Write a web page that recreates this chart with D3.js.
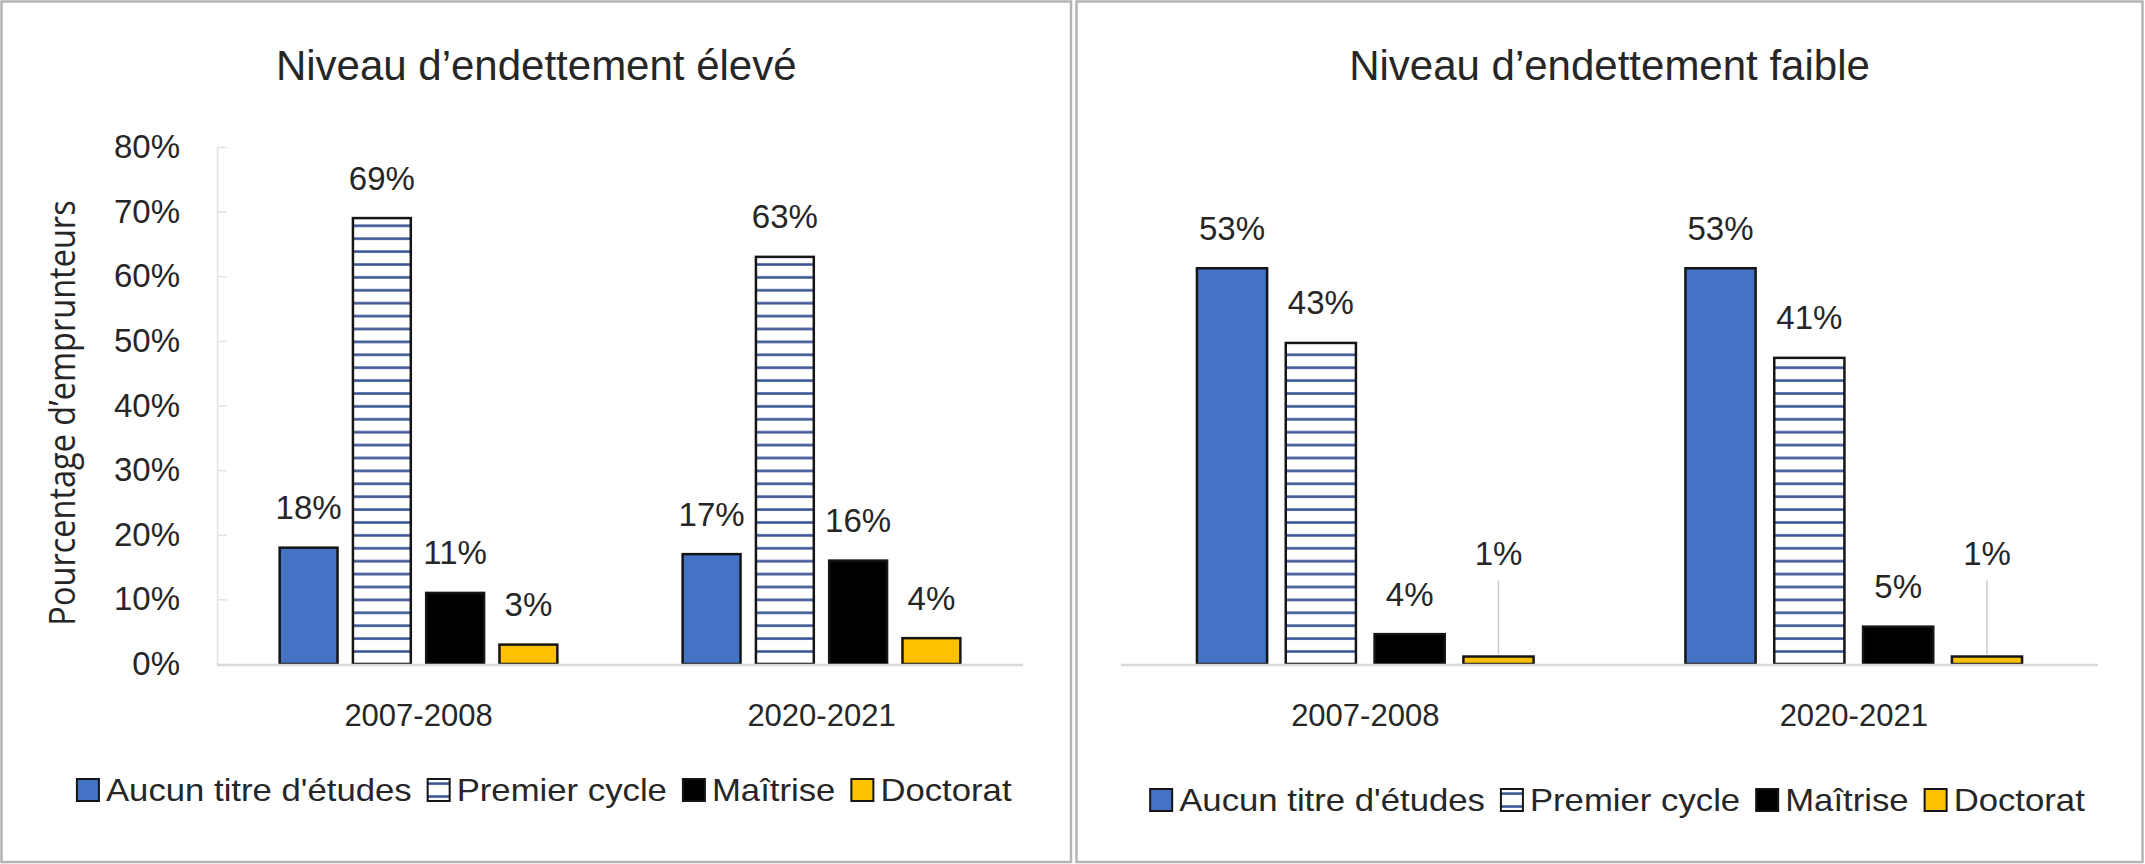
<!DOCTYPE html>
<html><head><meta charset="utf-8">
<script src="https://cdn.jsdelivr.net/npm/d3@7"></script>
<style>
html,body{margin:0;padding:0;background:#fff;}
svg{display:block;}
</style></head><body>
<svg id="chart" width="2145" height="864"></svg>
<script>
// ---- data ----
const periods = ["2007-2008", "2020-2021"];
const seriesNames = ["Aucun titre d'études", "Premier cycle", "Maîtrise", "Doctorat"];
const eleve2007 = [0.18, 0.69, 0.11, 0.03];
const eleve2020 = [0.17, 0.63, 0.16, 0.04];
const faible2007 = [0.53, 0.43, 0.04, 0.01];
const faible2020 = [0.53, 0.41, 0.05, 0.01];
const yTicksEleve = [0, 0.1, 0.2, 0.3, 0.4, 0.5, 0.6, 0.7, 0.8];
const panelTitles = ["Niveau d’endettement élevé", "Niveau d’endettement faible"];
const yAxisTitle = "Pourcentage d’emprunteurs";

// ---- style ----
const FONT = "'Liberation Sans', Arial, sans-serif";
const TXT = "#262626";
const fills = ["#4472C4", "url(#stripes)", "#000000", "#FFC000"];
const BAR_STROKE = "#151515";

const svg = d3.select("#chart");
const defs = svg.append("defs");
const pat = defs.append("pattern").attr("id", "stripes")
  .attr("patternUnits", "userSpaceOnUse").attr("width", 20).attr("height", 12.9);
pat.append("rect").attr("width", 20).attr("height", 12.9).attr("fill", "#ffffff");
pat.append("rect").attr("y", 5.2).attr("width", 20).attr("height", 2.6).attr("fill", "#3c5595");

svg.append("rect").attr("width", 2145).attr("height", 864).attr("fill", "#fff");

function stext(parent, x, y, str, size, sx, anchor, family) {
  const g = parent.append("g").attr("transform", `translate(${x},${y}) scale(${sx},1)`);
  const t = g.append("text").attr("text-anchor", anchor || "middle").attr("dy", "0.35em")
    .style("font-family", family || FONT).style("font-size", size + "px").attr("fill", TXT).text(str);
  return t;
}

const Y0 = 664;
const panels = [
  { title: panelTitles[0], data: [eleve2007, eleve2020], yMax: 0.8, yTop: 147, xr: [217, 1023],
    showAxis: true, legendY: 790, box: [1.5, 1.5, 1069.5, 860.5], lift: [0, 0, 0, 0] },
  { title: panelTitles[1], data: [faible2007, faible2020], yMax: 0.6, yTop: 216, xr: [1121, 2098],
    showAxis: false, legendY: 800, box: [1076.5, 1.5, 1066, 860.5], lift: [0, 0, 0, 63] }
];

panels.forEach((p, pi) => {
  const g = svg.append("g");
  // border
  g.append("rect").attr("x", p.box[0]).attr("y", p.box[1]).attr("width", p.box[2]).attr("height", p.box[3])
    .attr("fill", "none").attr("stroke", "#b4b4b4").attr("stroke-width", 2.5);
  const cx = p.box[0] + p.box[2] / 2;

  // title
  stext(g, cx, 65, p.title, 42, 1.0);

  const y = d3.scaleLinear().domain([0, p.yMax]).range([Y0, p.yTop]);
  const x0 = d3.scaleBand().domain(periods).range(p.xr).padding(0);
  const x1 = d3.scaleBand().domain(seriesNames).range([0, x0.bandwidth()])
    .paddingInner(0.21).paddingOuter(0.855);

  if (p.showAxis) {
    const ax = g.append("g").attr("transform", `translate(${p.xr[0]},0)`)
      .call(d3.axisLeft(y).tickValues(yTicksEleve).tickFormat(d3.format(".0%"))
        .tickSizeInner(-10).tickSizeOuter(0).tickPadding(37));
    ax.select(".domain").attr("stroke", "#e3e3e3").attr("stroke-width", 1.5);
    ax.selectAll(".tick line").attr("stroke", "#e3e3e3").attr("stroke-width", 1.5);
    ax.selectAll(".tick text").style("font-family", FONT).style("font-size", "33px")
      .attr("fill", TXT);
    // y axis title
    const yt = g.append("g").attr("transform", `translate(62,413) rotate(-90) scale(1,1.1)`);
    yt.append("text").attr("text-anchor", "middle").attr("dy", "0.35em")
      .style("font-family", "'Open Sans', sans-serif").style("font-size", "32.5px")
      .attr("fill", TXT).text(yAxisTitle);
  }

  // bars
  periods.forEach((per, i) => {
    const vals = p.data[i];
    const gg = g.append("g").attr("transform", `translate(${x0(per)},0)`);
    gg.selectAll("rect.bar").data(vals).join("rect").attr("class", "bar")
      .attr("x", (d, j) => x1(seriesNames[j]))
      .attr("y", d => y(d))
      .attr("width", x1.bandwidth())
      .attr("height", d => Y0 - y(d))
      .attr("fill", (d, j) => fills[j])
      .attr("stroke", BAR_STROKE).attr("stroke-width", 2.5);
    vals.forEach((v, j) => {
      const bx = x0(per) + x1(seriesNames[j]) + x1.bandwidth() / 2;
      const ly = y(v) - 40 - p.lift[j];
      if (p.lift[j] > 0) {
        g.append("line").attr("x1", bx).attr("x2", bx).attr("y1", ly + 27).attr("y2", y(v) - 2)
          .attr("stroke", "#c8c8c8").attr("stroke-width", 1.5);
      }
      stext(g, bx, ly, d3.format(".0%")(v), 33, 1.0);
    });
  });

  // x axis line
  g.append("line").attr("x1", p.xr[0]).attr("x2", p.xr[1]).attr("y1", Y0 + 1).attr("y2", Y0 + 1)
    .attr("stroke", "#d9d9d9").attr("stroke-width", 2.5);

  // category labels
  periods.forEach(per => {
    stext(g, x0(per) + x0.bandwidth() / 2, 715, per, 31, 1.0);
  });

  // legend
  const lg = g.append("g");
  const SQ = 22, GAP1 = 7, GAP2 = 16, LSX = 1.12;
  let cur = 0;
  const items = [];
  seriesNames.forEach((s, j) => {
    const it = lg.append("g");
    it.append("rect").attr("x", 0).attr("y", -SQ / 2).attr("width", SQ).attr("height", SQ)
      .attr("fill", fills[j]).attr("stroke", BAR_STROKE).attr("stroke-width", 2);
    const t = stext(it, SQ + GAP1, 0, s, 31, LSX, "start");
    const w = SQ + GAP1 + t.node().getComputedTextLength() * LSX;
    items.push({ it, x: cur });
    cur += w + GAP2;
  });
  const total = cur - GAP2;
  const startX = cx + 8 - total / 2;
  items.forEach(o => o.it.attr("transform", `translate(${startX + o.x},${p.legendY})`));
});
</script>
</body></html>
